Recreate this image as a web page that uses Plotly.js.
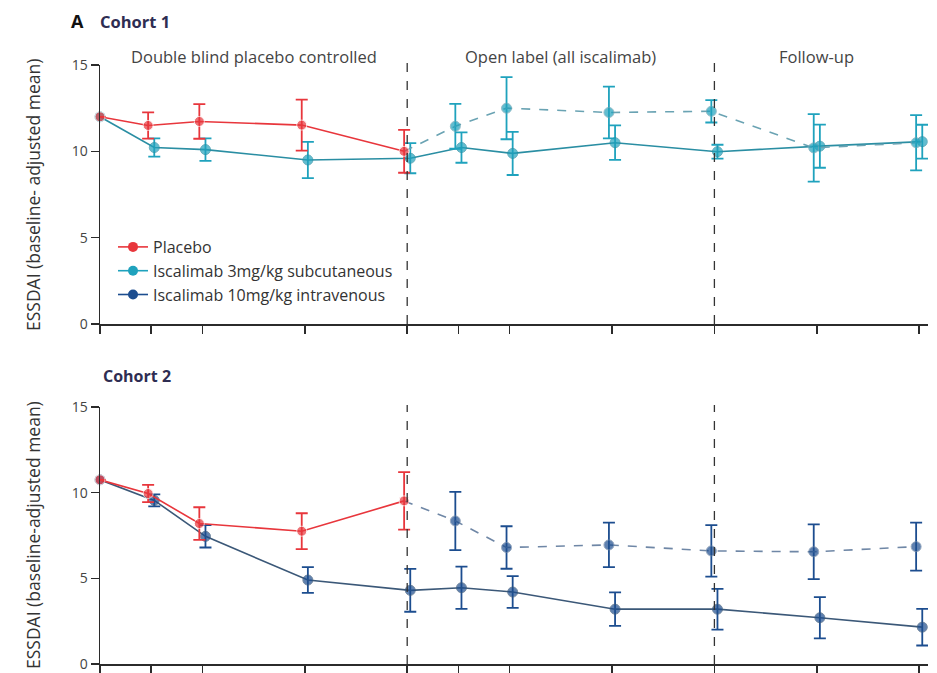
<!DOCTYPE html>
<html>
<head>
<meta charset="utf-8">
<script src="https://cdn.plot.ly/plotly-3.0.1.min.js"></script>
<style>html,body{margin:0;padding:0;background:#fff;}#chart{width:937px;height:673px;}</style>
</head>
<body>
<div id="chart"></div>
<script>
// ---- Data (weeks) ----
const weeksDB = [0, 2, 4, 8, 12];
const weeksAll = [0, 2, 4, 8, 12, 14, 16, 20, 24, 28, 32];
const weeksOL = [12, 14, 16, 20, 24, 28, 32];
const xTicks = [0, 2, 4, 8, 12, 14, 16, 20, 24, 28, 32];
const yTicks = [0, 5, 10, 15];

// Cohort 1
const c1Placebo = [12.0, 11.5, 11.73, 11.52, 10.0];
const c1PlaceboErr = [0, 0.76, 1.0, 1.48, 1.24];
const c1Sc = [12.0, 10.22, 10.1, 9.5, 9.6, 10.22, 9.88, 10.5, 9.98, 10.3, 10.56];
const c1ScErr = [0, 0.53, 0.65, 1.05, 0.87, 0.88, 1.25, 1.0, 0.4, 1.25, 0.98];
const c1Switch = [10.0, 11.45, 12.5, 12.25, 12.32, 10.2, 10.5];
const c1SwitchErr = [NaN, 1.3, 1.8, 1.5, 0.65, 1.95, 1.6];

// Cohort 2
const c2Placebo = [10.75, 9.95, 8.2, 7.75, 9.52];
const c2PlaceboErr = [0, 0.5, 0.95, 1.05, 1.68];
const c2Iv = [10.75, 9.55, 7.45, 4.9, 4.3, 4.45, 4.2, 3.2, 3.2, 2.7, 2.15];
const c2IvErr = [0, 0.35, 0.65, 0.75, 1.25, 1.23, 0.93, 0.98, 1.19, 1.2, 1.07];
const c2Switch = [9.52, 8.35, 6.8, 6.95, 6.6, 6.55, 6.85];
const c2SwitchErr = [NaN, 1.7, 1.24, 1.3, 1.5, 1.6, 1.4];

const legendNames = ['Placebo', 'Iscalimab 3mg/kg subcutaneous', 'Iscalimab 10mg/kg intravenous'];
const phaseLabels = ['Double blind placebo controlled', 'Open label (all iscalimab)', 'Follow-up'];
const phaseCentres = [6, 18, 28];
const phaseBreaks = [12, 24];

// ---- Styles ----
const RED = '#e8363c', TEAL = '#1fa2bd', BLUE = '#1c4d8f';
const FONT = 'Open Sans, Liberation Sans, sans-serif';
const dodge = (arr, d) => arr.map(w => (w === 0 ? 0 : w + d));

function series(x, y, err, color, lineColor, dash, xa, ya, name, showleg, firstHidden) {
  const sizes = y.map((v, i) => (firstHidden && i === 0 ? 0 : 10));
  return {
    type: 'scatter', mode: 'lines+markers', x: x, y: y,
    xaxis: xa, yaxis: ya, name: name, showlegend: showleg, cliponaxis: false,
    line: {color: lineColor, width: 1.6, dash: dash},
    marker: {color: color, size: sizes, symbol: 'circle'},
    error_y: {type: 'data', array: err, visible: true, color: color, thickness: 1.8, width: 6}
  };
}

const traces = [
  // cohort 1
  series(dodge(weeksAll, 0.12), c1Sc, c1ScErr, TEAL, '#2a8ea3', 'solid', 'x', 'y', legendNames[1], false, false),
  series(dodge(weeksOL, -0.12), c1Switch, c1SwitchErr, TEAL, '#6aa3b3', 'dash', 'x', 'y', 'switch1', false, true),
  series(dodge(weeksDB, -0.12), c1Placebo, c1PlaceboErr, RED, RED, 'solid', 'x', 'y', legendNames[0], false, false),
  // cohort 2
  series(dodge(weeksAll, 0.12), c2Iv, c2IvErr, BLUE, '#3b5878', 'solid', 'x2', 'y2', legendNames[2], false, false),
  series(dodge(weeksOL, -0.12), c2Switch, c2SwitchErr, BLUE, '#6f87a6', 'dash', 'x2', 'y2', 'switch2', false, true),
  series(dodge(weeksDB, -0.12), c2Placebo, c2PlaceboErr, RED, RED, 'solid', 'x2', 'y2', legendNames[0], false, false)
];

// Legend entries
const legColors = [RED, TEAL, BLUE];
legendNames.forEach((n, i) => {
  traces.push({
    type: 'scatter', mode: 'lines+markers', x: [null], y: [null], xaxis: 'x', yaxis: 'y',
    name: n, showlegend: true, line: {color: legColors[i], width: 1.6},
    marker: {color: legColors[i], size: 10}
  });
});

const PXL = 100, PXR = 928, W = 937, H = 673;
const xRange = [0, (PXR - PXL) / 25.6];
const py = p => 1 - p / H;

const axX = {
  range: xRange, showline: true, linecolor: '#2b2b2b', linewidth: 1.5,
  ticks: 'outside', ticklen: 8, tickwidth: 1.5, tickcolor: '#2b2b2b',
  tickmode: 'array', tickvals: xTicks, showticklabels: false,
  showgrid: false, zeroline: false, fixedrange: true
};
const axY = {
  range: [0, 15], showline: true, linecolor: '#2b2b2b', linewidth: 1.5,
  ticks: 'outside', ticklen: 8, tickwidth: 1.5, tickcolor: '#2b2b2b',
  tickmode: 'array', tickvals: yTicks, ticktext: yTicks.map(String),
  tickfont: {family: FONT, size: 14, color: '#444'},
  showgrid: false, zeroline: false, fixedrange: true
};

const shapes = [];
phaseBreaks.forEach(b => {
  shapes.push({type: 'line', xref: 'x', yref: 'paper', x0: b, x1: b, y0: py(324), y1: py(62),
    line: {color: '#333', width: 1.3, dash: 'dash'}});
  shapes.push({type: 'line', xref: 'x2', yref: 'paper', x0: b, x1: b, y0: py(664), y1: py(405),
    line: {color: '#333', width: 1.3, dash: 'dash'}});
});

const annotations = [
  {text: '<b>A</b>', xref: 'paper', yref: 'paper', x: 77 / W, y: py(21), xanchor: 'center', yanchor: 'middle',
    showarrow: false, font: {family: FONT, size: 18, color: '#111'}},
  {text: '<b>Cohort 1</b>', xref: 'paper', yref: 'paper', x: 98 / W, y: py(22), xanchor: 'left', yanchor: 'middle',
    showarrow: false, font: {family: FONT, size: 16.5, color: '#2e2d52'}},
  {text: '<b>Cohort 2</b>', xref: 'paper', yref: 'paper', x: 101 / W, y: py(376), xanchor: 'left', yanchor: 'middle',
    showarrow: false, font: {family: FONT, size: 16, color: '#2e2d52'}},
  {text: 'ESSDAI (baseline- adjusted mean)', xref: 'paper', yref: 'paper', x: 33 / W, y: py(195), textangle: -90,
    xanchor: 'center', yanchor: 'middle', showarrow: false, font: {family: FONT, size: 17.5, color: '#333'}},
  {text: 'ESSDAI (baseline-adjusted mean)', xref: 'paper', yref: 'paper', x: 33 / W, y: py(535), textangle: -90,
    xanchor: 'center', yanchor: 'middle', showarrow: false, font: {family: FONT, size: 17.5, color: '#333'}}
];
phaseLabels.forEach((t, i) => {
  annotations.push({text: t, xref: 'x', yref: 'paper', x: phaseCentres[i], y: py(56), xanchor: 'center', yanchor: 'middle',
    showarrow: false, font: {family: FONT, size: 16.5, color: '#444'}});
});

const layout = {
  width: W, height: H, margin: {l: 0, r: 0, t: 0, b: 0},
  paper_bgcolor: '#fff', plot_bgcolor: '#fff',
  showlegend: true,
  legend: {x: 113 / W, y: py(230), xanchor: 'left', yanchor: 'top', bgcolor: 'rgba(0,0,0,0)',
    font: {family: FONT, size: 16, color: '#333'}, tracegroupgap: 0, itemwidth: 30},
  xaxis: Object.assign({}, axX, {domain: [PXL / W, PXR / W], anchor: 'y'}),
  yaxis: Object.assign({}, axY, {domain: [py(324), py(65)], anchor: 'x'}),
  xaxis2: Object.assign({}, axX, {domain: [PXL / W, PXR / W], anchor: 'y2'}),
  yaxis2: Object.assign({}, axY, {domain: [py(664), py(407)], anchor: 'x2'}),
  shapes: shapes, annotations: annotations
};

Plotly.newPlot('chart', traces, layout, {displayModeBar: false, staticPlot: true});
</script>
</body>
</html>
